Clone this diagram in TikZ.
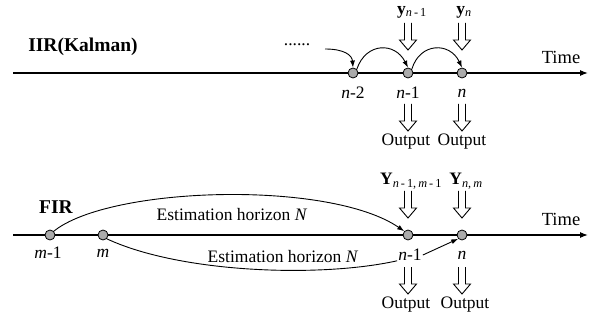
\documentclass[tikz,border=0pt]{standalone}
\usepackage{fontspec}
\setmainfont{Liberation Serif}
\usetikzlibrary{arrows.meta}
\definecolor{dotgray}{HTML}{ABABAB}
\tikzset{
  axis/.style={line width=1.2pt,-{Latex[length=8pt,width=6pt]}},
  sample/.style={circle,draw,line width=0.8pt,fill=dotgray,minimum size=10pt,inner sep=0pt},
  lbl/.style={font=\fontsize{17.5}{20}\selectfont,inner sep=1pt},
  timelbl/.style={font=\fontsize{18.5}{22}\selectfont,inner sep=1pt},
  hdr/.style={font=\fontsize{19.5}{22}\selectfont\bfseries,inner sep=1pt},
  link/.style={line width=0.9pt,-{Latex[length=7pt,width=5pt]}},
  hollow/.pic={\draw[line width=0.9pt] (-3.5,0) -- (-3.5,17) -- (-8.5,17) -- (0,27) -- (8.5,17) -- (3.5,17) -- (3.5,0);}
}
\begin{document}
\begin{tikzpicture}[x=1pt,y=-1pt]
\useasboundingbox (0,0) rectangle (593,320);

% ---------- IIR (Kalman) time line ----------
\node[hdr] (iir) at (83,47) {IIR(Kalman)};
\coordinate (ta) at (13,73);
\coordinate (tb) at (588,73);
\draw[axis] (ta) -- (tb);
\node[timelbl] (time1) at (561,57) {Time};

\node[sample] (p2) at (353,73) {};
\node[sample] (p1) at (408,73) {};
\node[sample] (p0) at (462,73) {};

\node[lbl] (lp2) at (353,93) {\textit{n}-2};
\node[lbl] (lp1) at (408,93) {\textit{n}-1};
\node[lbl] (lp0) at (462,93) {\textit{n}};

\node[lbl] (yp1) at (412,12) {\textbf{y}\textsubscript{\textit{n}\,-\,1}};
\node[lbl] (yp0) at (464,12) {\textbf{y}\textsubscript{\textit{n}}};

\pic at (408,23) {hollow};
\pic at (462,23) {hollow};
\pic at (408,104) {hollow};
\pic at (462,104) {hollow};

\node[lbl] (op1) at (406,142) {Output};
\node[lbl] (op0) at (462,142) {Output};

\node[lbl] (dots) at (297,45) {......};
\coordinate (s0) at (325,49);
\draw[link] (s0) .. controls (344,49) and (352,55) .. (p2.north);
\draw[link] (p2.north east) .. controls (366,42) and (395,42) .. (p1.north);
\draw[link] (p1.north east) .. controls (420,42) and (450,42) .. (p0.north);

% ---------- FIR time line ----------
\node[hdr] (fir) at (56,207) {FIR};
\coordinate (ba) at (13,235);
\coordinate (bb) at (588,235);
\draw[axis] (ba) -- (bb);
\node[timelbl] (time2) at (561,219) {Time};

\node[sample] (q0) at (50,235) {};
\node[sample] (q1) at (103,235) {};
\node[sample] (q2) at (408,235) {};
\node[sample] (q3) at (462,235) {};

\node[lbl] (lq0) at (48,253) {\textit{m}-1};
\node[lbl] (lq1) at (103,253) {\textit{m}};
\node[lbl] (lq2) at (410,255) {\textit{n}-1};
\node[lbl] (lq3) at (462,255) {\textit{n}};

\node[lbl] (yq2) at (411,181) {\textbf{Y}\textsubscript{\textit{n}\,-\,1,\,\textit{m}\,-\,1}};
\node[lbl] (yq3) at (466,181) {\textbf{Y}\textsubscript{\textit{n},\,\textit{m}}};

\pic at (408,191) {hollow};
\pic at (462,191) {hollow};
\pic at (408,267) {hollow};
\pic at (462,267) {hollow};

\node[lbl] (oq2) at (406,305) {Output};
\node[lbl] (oq3) at (465,305) {Output};

\draw[link] (q0.north east) .. controls (110,186) and (330,180) .. (q2.north west);
\node[lbl] (h1) at (232,215) {Estimation horizon \textit{N}};

\draw[line width=0.9pt] (q1.south east) .. controls (180,273) and (320,278) .. (lq2.base west);
\draw[link] (lq2.east) -- (q3.south west);
\node[lbl] (h2) at (283,257) {Estimation horizon \textit{N}};
\end{tikzpicture}
\end{document}
